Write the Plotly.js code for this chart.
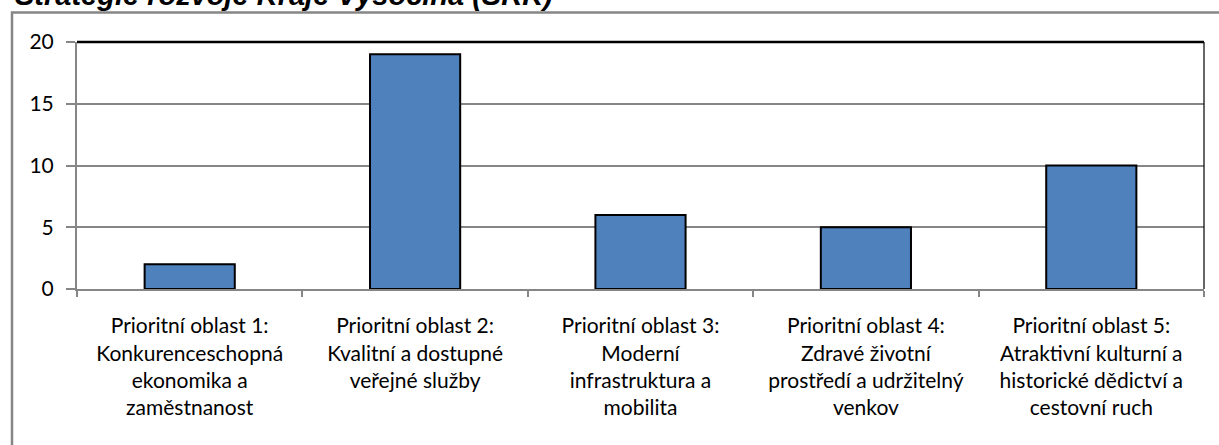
<!DOCTYPE html>
<html>
<head>
<meta charset="utf-8">
<script src="https://cdn.plot.ly/plotly-3.0.1.min.js"></script>
<style>
  html, body { margin: 0; padding: 0; background: #ffffff; }
  #chart { width: 1219px; height: 445px; }
</style>
</head>
<body>
<div id="chart"></div>
<script>
const titleText = "Strategie rozvoje Kraje Vysočina (SRK)";
const categories = [
  "Prioritní oblast 1:<br>Konkurenceschopná<br>ekonomika a<br>zaměstnanost",
  "Prioritní oblast 2:<br>Kvalitní a dostupné<br>veřejné služby",
  "Prioritní oblast 3:<br>Moderní<br>infrastruktura a<br>mobilita",
  "Prioritní oblast 4:<br>Zdravé životní<br>prostředí a udržitelný<br>venkov",
  "Prioritní oblast 5:<br>Atraktivní kulturní a<br>historické dědictví a<br>cestovní ruch"
];
const values = [2, 19, 6, 5, 10];
const yTicks = [0, 5, 10, 15, 20];

const W = 1219, H = 445;
const L = 77, R = 1204, T = 41.5, B = 289.5;
const px2x = p => (p - L) / (R - L);
const py2y = p => (B - p) / (B - T);

const gray = "#868686";

const trace = {
  type: "bar",
  x: categories,
  y: values,
  marker: { color: "#4F81BD", line: { color: "#000000", width: 2 } },
  hoverinfo: "skip"
};

const layout = {
  width: W, height: H,
  margin: { l: L, r: W - R, t: T, b: H - B, pad: 0 },
  paper_bgcolor: "#ffffff",
  plot_bgcolor: "#ffffff",
  showlegend: false,
  bargap: 0.6,
  title: {
    text: "<b><i>" + titleText + "</i></b>",
    font: { family: "Liberation Sans, Arial, sans-serif", size: 29, color: "#000000" },
    xref: "container", yref: "container",
    x: 15 / W, xanchor: "left",
    y: 1 - 5 / H, yanchor: "bottom"
  },
  xaxis: {
    type: "category",
    showline: true, linecolor: gray, linewidth: 2,
    ticks: "outside", tickson: "boundaries", ticklen: 6, tickcolor: gray, tickwidth: 2,
    showgrid: false, zeroline: false,
    ticklabelstandoff: 17,
    tickfont: { family: "Lato, sans-serif", size: 21, color: "#000000" },
    fixedrange: true
  },
  yaxis: {
    range: [0, 20],
    tickvals: yTicks,
    ticktext: yTicks.map(String),
    showline: true, linecolor: gray, linewidth: 2,
    ticks: "outside", ticklen: 9, tickcolor: gray, tickwidth: 2,
    showgrid: true, gridcolor: gray, gridwidth: 2,
    zeroline: false,
    ticklabelstandoff: 8,
    tickfont: { family: "Lato, sans-serif", size: 21, color: "#000000" },
    fixedrange: true
  },
  shapes: [
    { type: "rect", xref: "paper", yref: "paper",
      x0: px2x(12), x1: px2x(1230), y0: py2y(460), y1: py2y(12),
      line: { color: gray, width: 2.5 }, fillcolor: "rgba(0,0,0,0)", layer: "below" },
    { type: "line", xref: "paper", yref: "paper", x0: 0, x1: 1, y0: 1, y1: 1,
      line: { color: "#000000", width: 2.5 }, layer: "above" },
    { type: "line", xref: "paper", yref: "paper", x0: 1, x1: 1, y0: 0, y1: 1,
      line: { color: "#000000", width: 1.2 }, layer: "above" }
  ]
};

Plotly.newPlot("chart", [trace], layout, { displayModeBar: false, staticPlot: true });
</script>
</body>
</html>
